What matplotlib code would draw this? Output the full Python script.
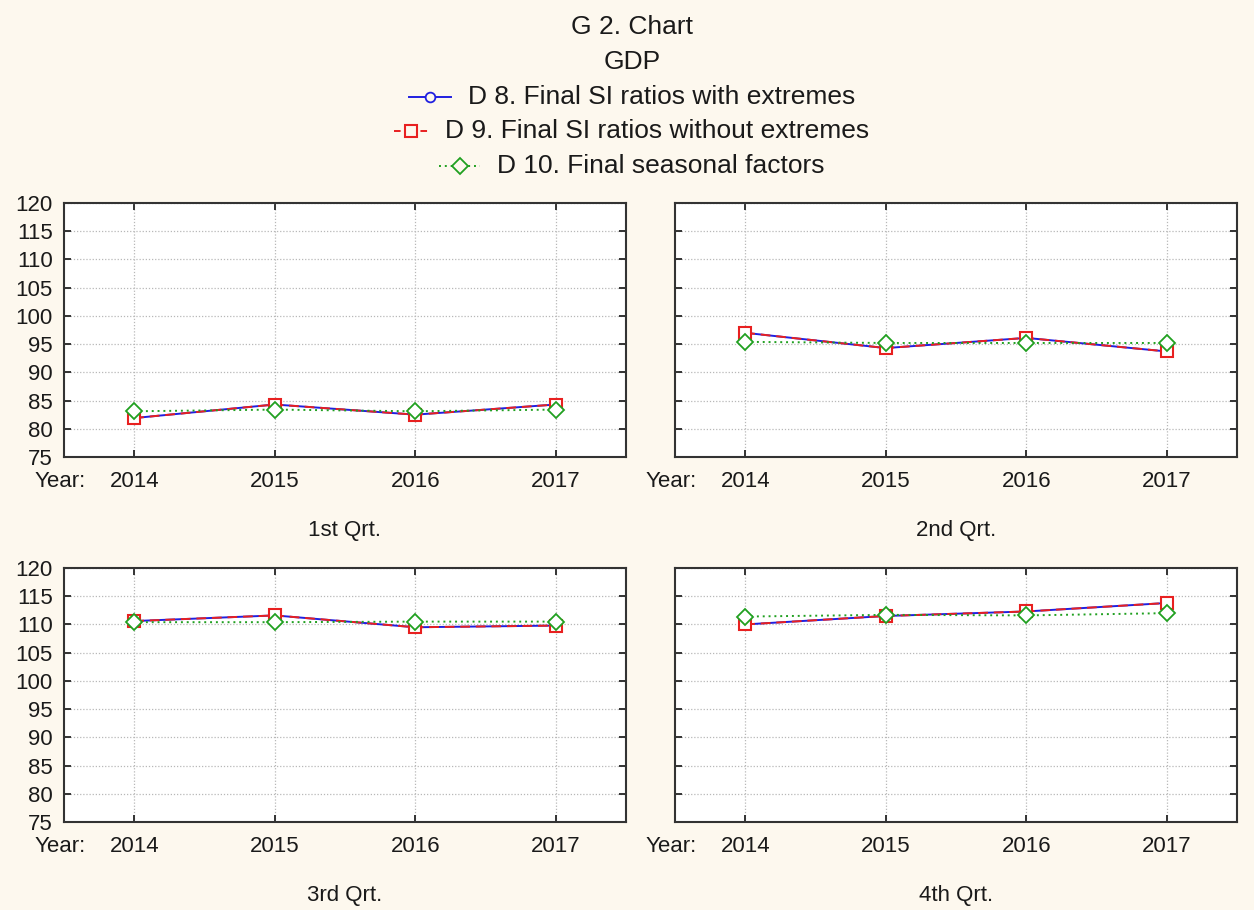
import matplotlib
matplotlib.use("Agg")
import matplotlib.pyplot as plt
from matplotlib.lines import Line2D

# ---------------- DATA ----------------

years = [2014, 2015, 2016, 2017]
quarters = ["1st Qrt.", "2nd Qrt.", "3rd Qrt.", "4th Qrt."]

# D 8. Final SI ratios with extremes
d8_q1 = [81.9, 84.3, 82.5, 84.3]
d8_q2 = [97.0, 94.3, 96.1, 93.7]
d8_q3 = [110.6, 111.6, 109.5, 109.8]
d8_q4 = [110.0, 111.5, 112.3, 113.8]

# D 9. Final SI ratios without extremes
d9_q1 = [81.9, 84.3, 82.5, 84.3]
d9_q2 = [97.0, 94.3, 96.1, 93.7]
d9_q3 = [110.6, 111.6, 109.5, 109.8]
d9_q4 = [110.0, 111.5, 112.3, 113.8]

# D 10. Final seasonal factors
d10_q1 = [83.1, 83.4, 83.1, 83.4]
d10_q2 = [95.4, 95.2, 95.2, 95.2]
d10_q3 = [110.4, 110.4, 110.5, 110.5]
d10_q4 = [111.4, 111.7, 111.6, 112.0]

y_ticks = list(range(75, 121, 5))

legend_labels = [
    "D 8. Final SI ratios with extremes",
    "D 9. Final SI ratios without extremes",
    "D 10. Final seasonal factors",
]

# ---------------- STYLE ----------------

W, H = 1254, 910
bg = "#fdf8ee"
font = "Liberation Sans"
text_color = "#1a1a1a"
tick_size = 16
head_size = 19

s8 = dict(color="#2020e0", linestyle="-", linewidth=1.4, marker="o",
          markersize=7, markerfacecolor="white", markeredgewidth=1.3)
s9 = dict(color="#e82020", linestyle=(0, (5, 3)), linewidth=1.4, marker="s",
          markersize=9, markerfacecolor="white", markeredgewidth=1.5)
s10 = dict(color="#20a020", linestyle=(0, (1, 2)), linewidth=1.4, marker="D",
           markersize=8, markerfacecolor="white", markeredgewidth=1.3)

plt.rcParams["font.family"] = font

fig = plt.figure(figsize=(W / 100, H / 100), dpi=100, facecolor=bg)


def px_box(left, top, right, bottom):
    return [left / W, 1 - bottom / H, (right - left) / W, (bottom - top) / H]


boxes = [
    px_box(64, 203, 626, 457),
    px_box(675, 203, 1237, 457),
    px_box(64, 568, 626, 822),
    px_box(675, 568, 1237, 822),
]

series = [
    (d8_q1, d9_q1, d10_q1),
    (d8_q2, d9_q2, d10_q2),
    (d8_q3, d9_q3, d10_q3),
    (d8_q4, d9_q4, d10_q4),
]

for i, box in enumerate(boxes):
    ax = fig.add_axes(box)
    ax.set_facecolor("white")
    d8, d9, d10 = series[i]

    ax.plot(years, d8, zorder=3, **s8)
    ax.plot(years, d9, zorder=4, **s9)
    ax.plot(years, d10, zorder=5, **s10)

    ax.set_xlim(2013.5, 2017.5)
    ax.set_ylim(75, 120)
    ax.set_xticks(years)
    ax.set_yticks(y_ticks)
    ax.grid(True, color="#b8b8b8", linestyle=(0, (1, 1.5)), linewidth=0.9)

    ax.tick_params(direction="in", length=5, width=1.4, color="#333333",
                   top=True, right=True, labelsize=tick_size, labelcolor=text_color)
    ax.tick_params(axis="x", pad=10)
    ax.tick_params(axis="y", pad=8)
    if i % 2 == 1:
        ax.tick_params(axis="y", labelleft=False)

    for sp in ax.spines.values():
        sp.set_color("#333333")
        sp.set_linewidth(1.5)

    ax.annotate("Year:", xy=(2014, 0), xycoords=("data", "axes fraction"),
                xytext=(-35, -10), textcoords="offset points",
                ha="right", va="top", fontsize=tick_size, color=text_color)
    ax.annotate(quarters[i], xy=(0.5, 0), xycoords="axes fraction",
                xytext=(0, -53), textcoords="offset points",
                ha="center", va="center", fontsize=tick_size, color=text_color)

# ---------------- HEADER ----------------

fig.text(632 / W, 1 - 27 / H, "G 2. Chart", ha="center", va="center",
         fontsize=head_size, color=text_color)
fig.text(632 / W, 1 - 62 / H, "GDP", ha="center", va="center",
         fontsize=head_size, color=text_color)

renderer = fig.canvas.get_renderer()
row_y = [97, 131, 166]
handle_w = [42, 34, 41]
styles = [s8, s9, s10]
gap = 17

for label, y, hw, st in zip(legend_labels, row_y, handle_w, styles):
    t = fig.text(0, 1 - y / H, label, ha="left", va="center",
                 fontsize=head_size, color=text_color)
    tw = t.get_window_extent(renderer).width
    x0 = 632 - (hw + gap + tw) / 2
    t.set_x((x0 + hw + gap) / W)
    xs = [x0 / W, (x0 + hw / 2) / W, (x0 + hw) / W]
    ys = [1 - y / H] * 3
    st2 = dict(st)
    st2["markevery"] = [1]
    st2["markerfacecolor"] = bg
    if st is s9:
        # short dash either side of the square (dashes scale with linewidth)
        st2["linestyle"] = (0, (3.4, 10.2))
    fig.add_artist(Line2D(xs, ys, transform=fig.transFigure, **st2))

fig.savefig("out.png", dpi=100, facecolor=bg)
